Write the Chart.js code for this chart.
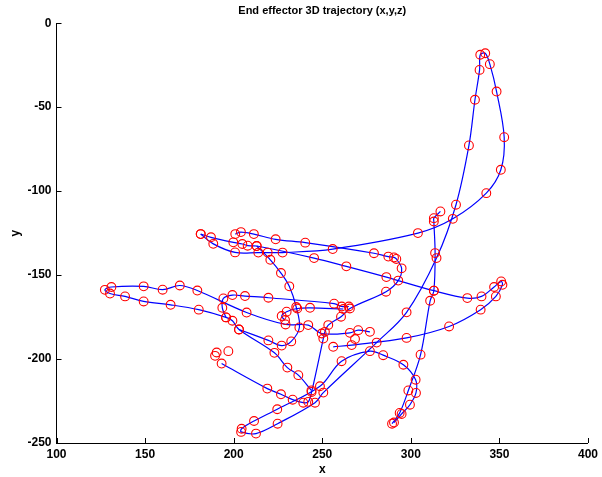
<!DOCTYPE html>
<html>
<head>
<meta charset="utf-8">
<script src="https://cdn.jsdelivr.net/npm/chart.js@4.4.1/dist/chart.umd.min.js"></script>
<style>
  html, body { margin: 0; padding: 0; background: #fff; }
  #wrap { width: 602px; height: 477px; }
</style>
</head>
<body>
<div id="wrap"><canvas id="traj" width="602" height="477"></canvas></div>
<script>
// tick values
const xTicks = [100, 150, 200, 250, 300, 350, 400];
const yTicks = [0, -50, -100, -150, -200, -250];

// trajectory strokes (x, y)
const loopX = [181.4, 188.5, 200.8, 213.9, 219.2, 227.6, 255.9, 304.0, 323.7, 342.6, 350.8, 352.7, 348.4, 344.6, 342.0, 339.2, 338.8, 336.2, 332.8, 325.5, 314.5, 297.6, 280.7, 250.6, 245.9, 224.8, 212.6, 204.2, 204.5, 211.5, 224.6, 248.7, 260.9, 276.9, 284.4, 295.8, 302.7, 302.9, 299.5, 294.8, 290.5];
const loopY = [-125.6, -131.4, -136.5, -136.6, -136.6, -136.6, -134.5, -125.0, -116.5, -101.2, -87.3, -67.9, -40.7, -24.4, -17.9, -18.8, -27.8, -45.6, -72.8, -108.1, -139.9, -172.2, -190.2, -220.0, -226.0, -238.5, -244.4, -243.4, -241.5, -236.9, -229.9, -216.2, -201.3, -195.3, -197.7, -203.4, -212.3, -220.2, -227.2, -232.7, -237.8];

const hookX = [200.9, 204.1, 211.4, 223.7, 240.4, 279.2, 287.3, 290.5, 291.8, 294.8, 292.9, 286.0, 265.6, 260.6, 253.4, 251.5, 250.6, 244.0, 242.1, 239.3, 233.3, 226.7, 219.0, 193.2];
const hookY = [-125.6, -124.4, -125.6, -128.7, -130.7, -137.0, -139.0, -139.5, -140.4, -146.0, -153.3, -159.9, -169.9, -174.8, -179.8, -183.8, -187.8, -219.6, -225.5, -226.0, -224.2, -221.0, -217.6, -202.7];

const diagX = [181.4, 187.2, 199.8, 204.9, 207.9, 213.0, 245.4, 263.6, 286.2, 313.0, 331.9, 339.9, 347.0, 351.0, 351.7, 348.0, 339.4, 321.6, 297.6, 266.6, 256.2];
const diagY = [-125.6, -127.5, -130.5, -131.5, -132.5, -132.7, -139.9, -144.8, -151.2, -159.3, -163.7, -162.7, -157.1, -153.8, -155.8, -162.7, -170.6, -180.6, -187.4, -191.7, -192.7];

const sCurveX = [213.0, 220.7, 226.7, 231.4, 235.3, 237.1, 232.5, 227.1, 219.6, 203.0];
const sCurveY = [-132.7, -140.9, -148.8, -156.7, -169.0, -181.2, -189.5, -192.0, -188.9, -182.4];

const hairpinX = [276.9, 270.3, 265.6, 249.7, 242.1, 229.3, 207.3, 179.5, 169.6, 159.9, 149.2, 131.0, 127.3, 130.2, 138.7, 149.2, 164.4, 180.3, 195.7, 199.3, 203.0, 223.0, 230.3, 236.5, 243.9];
const hairpinY = [-183.8, -182.8, -184.4, -184.8, -179.8, -179.4, -172.3, -159.2, -156.2, -158.7, -156.7, -157.1, -158.8, -161.0, -162.7, -165.7, -167.7, -170.6, -175.2, -177.2, -182.4, -196.3, -205.1, -209.6, -218.7];

const midX = [229.0, 227.1, 229.9, 235.9, 243.1, 261.9];
const midY = [-176.8, -174.4, -171.8, -169.9, -169.5, -170.2];

const curlX = [195.7, 193.6, 194.2, 199.3, 206.4, 219.6, 256.7, 261.0, 265.0];
const curlY = [-175.2, -169.5, -163.9, -161.9, -162.5, -163.5, -167.0, -168.7, -168.7];

const vertX = [316.7, 313.0, 313.0, 313.7, 313.0, 310.9, 305.5, 298.6, 293.7, 289.4];
const vertY = [-112.1, -116.1, -118.1, -136.9, -159.3, -165.3, -197.4, -218.7, -232.1, -238.5];

// circles with no line through them
const looseX = [189.5, 190.4, 197.0, 268.5];
const looseY = [-198.1, -196.1, -195.3, -188.1];

const strokes = [
  [loopX, loopY], [hookX, hookY], [diagX, diagY], [sCurveX, sCurveY],
  [hairpinX, hairpinY], [midX, midY], [curlX, curlY], [vertX, vertY]
];

function toPoints(xs, ys) {
  return xs.map((x, i) => ({ x: x, y: ys[i] }));
}

const FONT = '"Liberation Sans", Arial, sans-serif';

const lineSets = strokes.map(s => ({
  data: toPoints(s[0], s[1]),
  showLine: true,
  borderColor: '#0000ff',
  borderWidth: 1.2,
  tension: 0.35,
  pointRadius: 0,
  order: 2
}));

const allX = strokes.reduce((a, s) => a.concat(s[0]), []).concat(looseX);
const allY = strokes.reduce((a, s) => a.concat(s[1]), []).concat(looseY);

const markerSet = {
  data: toPoints(allX, allY),
  showLine: false,
  pointStyle: 'circle',
  pointRadius: 4.4,
  pointBorderWidth: 1.1,
  pointBorderColor: '#ff0000',
  pointBackgroundColor: 'rgba(0,0,0,0)',
  order: 1
};

const inwardTicks = {
  id: 'inwardTicks',
  afterDraw(chart) {
    const { ctx, chartArea: a, scales } = chart;
    ctx.save();
    ctx.strokeStyle = '#000';
    ctx.lineWidth = 1;
    ctx.beginPath();
    xTicks.forEach(v => {
      const px = Math.round(scales.x.getPixelForValue(v)) + 0.5;
      ctx.moveTo(px, a.bottom);
      ctx.lineTo(px, a.bottom - 5);
    });
    yTicks.forEach(v => {
      const py = Math.round(scales.y.getPixelForValue(v)) + 0.5;
      ctx.moveTo(a.left, py);
      ctx.lineTo(a.left + 5, py);
    });
    ctx.stroke();
    ctx.restore();
  }
};

new Chart(document.getElementById('traj'), {
  type: 'scatter',
  data: { datasets: lineSets.concat([markerSet]) },
  options: {
    responsive: false,
    animation: false,
    devicePixelRatio: 1,
    layout: { padding: { left: 0, right: 9, top: 0, bottom: 0 } },
    plugins: {
      legend: { display: false },
      tooltip: { enabled: false },
      title: {
        display: true,
        fullSize: false,
        text: 'End effector 3D trajectory (x,y,z)',
        color: '#000',
        font: { family: FONT, size: 11, weight: 'bold' },
        padding: { top: 4, bottom: 6 }
      }
    },
    scales: {
      x: {
        type: 'linear',
        min: 100, max: 400,
        afterBuildTicks: s => { s.ticks = xTicks.map(v => ({ value: v })); },
        afterFit: s => { s.height = 34; },
        grid: { display: false, drawTicks: false },
        border: { display: true, color: '#000', width: 1 },
        ticks: { color: '#000', padding: 4, font: { family: FONT, size: 12, weight: 'bold' } },
        title: { display: true, text: 'x', color: '#000', padding: 0, font: { family: FONT, size: 12, weight: 'bold' } }
      },
      y: {
        type: 'linear',
        min: -250, max: 0,
        afterBuildTicks: s => { s.ticks = yTicks.map(v => ({ value: v })); },
        afterFit: s => { s.width = 56.5; },
        grid: { display: false, drawTicks: false },
        border: { display: true, color: '#000', width: 1 },
        ticks: { color: '#000', padding: 5, font: { family: FONT, size: 12, weight: 'bold' } },
        title: { display: true, text: 'y', color: '#000', padding: { top: 8, bottom: 0 }, font: { family: FONT, size: 12, weight: 'bold' } }
      }
    }
  },
  plugins: [inwardTicks]
});
</script>
</body>
</html>
